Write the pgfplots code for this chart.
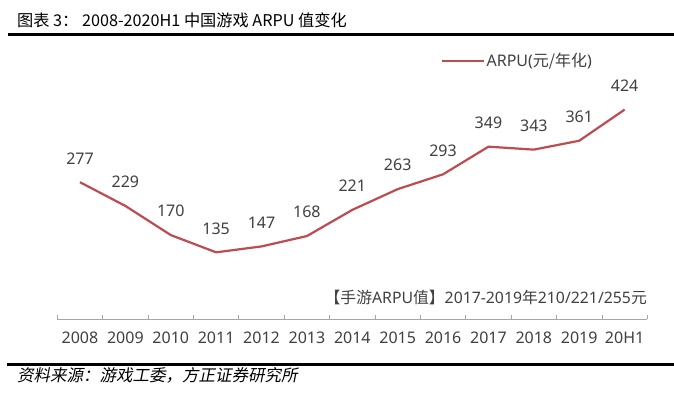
\documentclass[border=0pt]{standalone}
\usepackage{pgfplots}
\pgfplotsset{compat=1.18}
\usepackage{fontspec}
\setmainfont{Noto Sans}
\newfontfamily\cjk{Noto Sans CJK SC}
\newfontfamily\kai[FakeSlant=0.2]{Noto Sans CJK SC}
\definecolor{linered}{HTML}{BE4B50}
\definecolor{txt}{HTML}{404040}
\definecolor{axgray}{HTML}{A6A6A6}
\begin{document}
\begin{tikzpicture}[x=1pt,y=1pt]
\path[use as bounding box] (0,0) rectangle (674,399);
% title and rules
\node[anchor=base west, inner sep=0pt, font=\cjk\fontsize{16.2}{18}\selectfont] at (17,372) {图表 3： 2008-2020H1 中国游戏 ARPU 值变化};
\draw[line width=3pt, black] (8,364.5) -- (674,364.5);
\draw[line width=3pt, black] (7,34.5) -- (674,34.5);
\node[anchor=west, inner sep=0pt, font=\kai\fontsize{16.5}{18}\selectfont] at (17,24) {资料来源：游戏工委，方正证券研究所};
\node[anchor=east, inner sep=0pt, text=txt, font=\fontsize{15.8}{17}\selectfont] at (647,102) {{\cjk 【手游}ARPU{\cjk 值】}2017-2019{\cjk 年}210/221/255{\cjk 元}};
\begin{axis}[
  at={(57.3pt,80pt)}, anchor=south west,
  scale only axis, width=590pt, height=246.9pt,
  xmin=-0.5, xmax=12.5, ymin=0, ymax=500,
  clip=false,
  axis x line=bottom, x axis line style={-, draw=axgray, line width=0.8pt},
  axis y line=none,
  xtick={0,...,12},
  xticklabels={2008,2009,2010,2011,2012,2013,2014,2015,2016,2017,2018,2019,20H1},
  major tick length=0pt,
  xticklabel style={anchor=center, yshift=-19pt, text=txt, font=\fontsize{16}{18}\selectfont},
  extra x ticks={-0.5,0.5,1.5,2.5,3.5,4.5,5.5,6.5,7.5,8.5,9.5,10.5,11.5,12.5},
  extra x tick labels={},
  extra x tick style={major tick length=4pt, tick align=inside, tick style={draw=axgray, line width=0.8pt}},
  /pgf/number format/assume math mode=true,
  nodes near coords,
  every node near coord/.append style={anchor=center, yshift=24pt, text=txt, font=\fontsize{16}{18}\selectfont},
  legend style={at={(0.649,1.046)}, anchor=west, draw=none, fill=none, inner sep=0pt, font=\fontsize{16}{18}\selectfont, text=txt},
  legend image code/.code={\draw[#1] (0pt,0pt) -- (42pt,0pt);},
]
\addplot[color=linered, line width=2.2pt, mark=none] coordinates {
(0,277) (1,229) (2,170) (3,135) (4,147) (5,168) (6,221) (7,263) (8,293) (9,349) (10,343) (11,361) (12,424)
};
\addlegendentry{ARPU({\cjk 元/年化})}
\end{axis}
\end{tikzpicture}
\end{document}
